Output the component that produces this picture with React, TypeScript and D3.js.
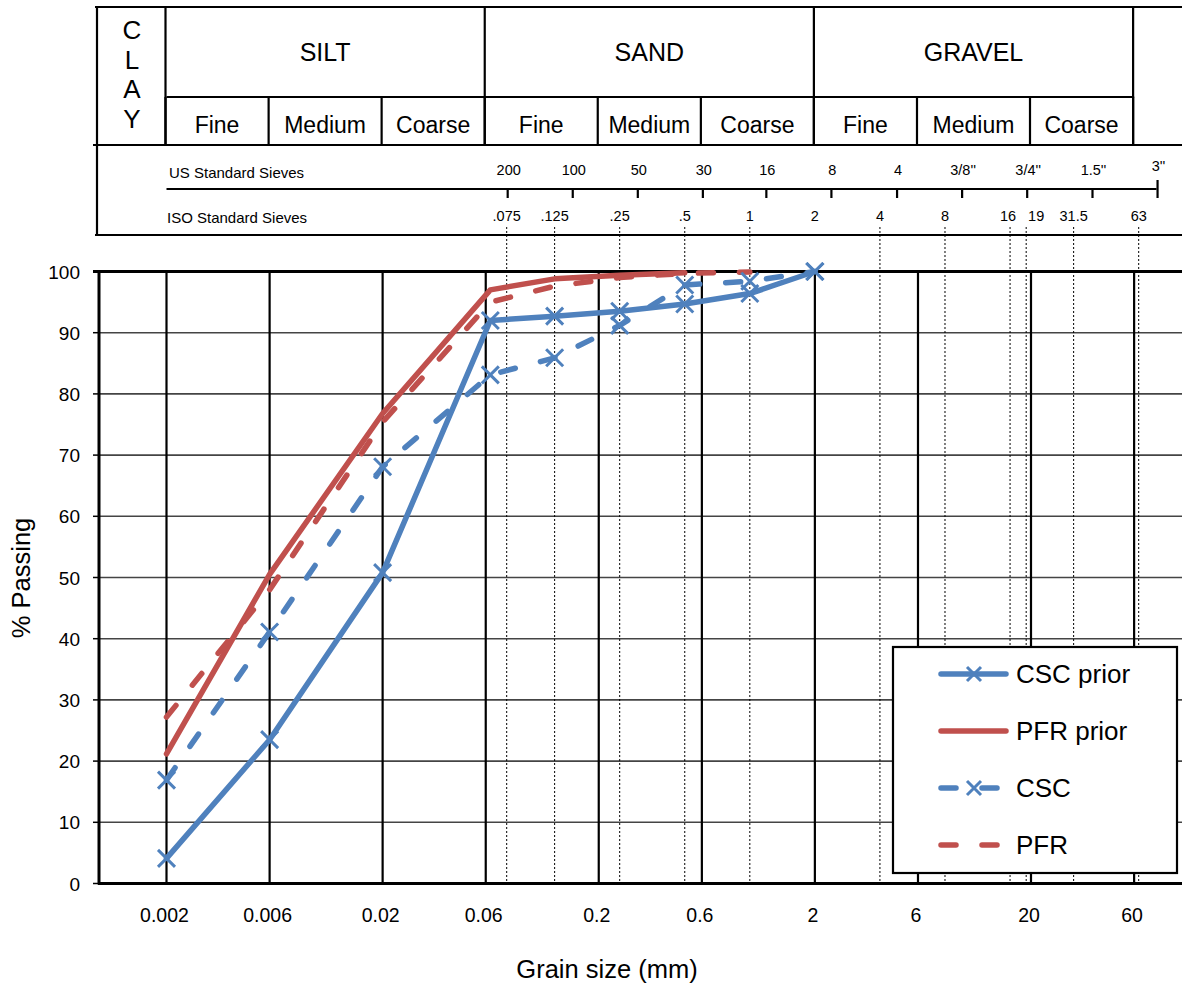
import React from "react";
import * as d3 from "d3";

// ---------- data ----------
const grainSizes = [0.002, 0.006, 0.02, 0.063, 0.125, 0.25, 0.5, 1, 2];
const cscPrior = [4.1, 23.5, 50.8, 92.0, 92.7, 93.5, 94.7, 96.4, 100];
const pfrPrior = [21.2, 50.5, 76.8, 97.0, 98.8, 99.4, 99.8];
const csc = [16.9, 41.1, 68.1, 83.1, 85.9, 91.2, 97.8, 98.4, 100];
const pfr = [27.2, 48.0, 75.4, 95.0, 97.6, 99.0, 99.7, 99.9];

const xTickValues = [0.002, 0.006, 0.02, 0.06, 0.2, 0.6, 2, 6, 20, 60];
const xTickLabels = ["0.002", "0.006", "0.02", "0.06", "0.2", "0.6", "2", "6", "20", "60"];
const yTickValues = [0, 10, 20, 30, 40, 50, 60, 70, 80, 90, 100];

const majorBounds = [0.002, 0.06, 2, 60];
const majorLabels = ["SILT", "SAND", "GRAVEL"];
const subBounds = [0.002, 0.006, 0.02, 0.06, 0.2, 0.6, 2, 6, 20, 60];
const subLabels = ["Fine", "Medium", "Coarse", "Fine", "Medium", "Coarse", "Fine", "Medium", "Coarse"];
const clayLetters = ["C", "L", "A", "Y"];

const usSieveLabels = ["200", "100", "50", "30", "16", "8", "4", "3/8''", "3/4''", "1.5''", "3''"];
const usSieveMm = [0.075, 0.15, 0.3, 0.6, 1.18, 2.36, 4.75, 9.5, 19, 38.1, 76.2];
const isoSieveLabels = [".075", ".125", ".25", ".5", "1", "2", "4", "8", "16", "19", "31.5", "63"];
const isoSieveMm = [0.075, 0.125, 0.25, 0.5, 1, 2, 4, 8, 16, 19, 31.5, 63];

const seriesNames = ["CSC prior", "PFR prior", "CSC", "PFR"];

// ---------- style ----------
const BLUE = "#4F81BD";
const RED = "#C0504D";
const FONT = "Liberation Sans, Arial, Helvetica, sans-serif";
const DASH = "15 26";

const W = 1182;
const H = 983;
const PL = 99; // plot left
const PR = 1182;
const PT = 271.5;
const PB = 883.5;

// header geometry
const HT = 7;
const HR1 = 97;
const HR2 = 145;
const HB = 235;
const HL = 97;

const isoDx: Record<string, number> = { "16": -2, "19": 10 };

export default function App() {
  const x = d3.scaleLog().domain([0.002, 20]).range([166.5, 1031]);
  const y = d3.scaleLinear().domain([0, 100]).range([PB, PT]);

  const line = d3
    .line<[number, number]>()
    .x((d) => x(d[0]))
    .y((d) => y(d[1]));

  const pts = (vals: number[]) => vals.map((v, i) => [grainSizes[i], v] as [number, number]);

  const series = [
    { name: seriesNames[1], data: pts(pfrPrior), color: RED, dash: null, marker: false },
    { name: seriesNames[3], data: pts(pfr), color: RED, dash: DASH, marker: false },
    { name: seriesNames[0], data: pts(cscPrior), color: BLUE, dash: null, marker: true },
    { name: seriesNames[2], data: pts(csc), color: BLUE, dash: DASH, marker: true },
  ];

  const legendItems = [
    { name: seriesNames[0], color: BLUE, dash: null, marker: true },
    { name: seriesNames[1], color: RED, dash: null, marker: false },
    { name: seriesNames[2], color: BLUE, dash: DASH, marker: true },
    { name: seriesNames[3], color: RED, dash: DASH, marker: false },
  ];

  const xMark = (cx: number, cy: number, s: number, color: string, key: any) => (
    <path
      key={key}
      d={`M${cx - s},${cy - s}L${cx + s},${cy + s}M${cx - s},${cy + s}L${cx + s},${cy - s}`}
      stroke={color}
      strokeWidth={3}
      fill="none"
    />
  );

  const lw = 2.2;

  return (
    <svg
      width={W}
      height={H}
      style={{ position: "absolute", left: 0, top: 0, background: "#fff" }}
      fontFamily={FONT}
    >
      <rect x={0} y={0} width={W} height={H} fill="#fff" />

      {/* ---------- header ---------- */}
      <g stroke="#000" strokeWidth={lw} fill="none">
        <line x1={95} x2={W} y1={HT} y2={HT} />
        <line x1={93} x2={W} y1={HR2} y2={HR2} />
        <line x1={95} x2={W} y1={HB} y2={HB} />
        <line x1={HL} x2={HL} y1={HT - 1} y2={HB + 1} />
        <line x1={x(majorBounds[0])} x2={x(majorBounds[majorBounds.length - 1])} y1={HR1} y2={HR1} />
        {majorBounds.map((b, i) => (
          <line key={"mb" + i} x1={x(b) - 1} x2={x(b) - 1} y1={HT} y2={HR2} />
        ))}
        {subBounds.map((b, i) => (
          <line key={"sb" + i} x1={x(b) - 1} x2={x(b) - 1} y1={HR1} y2={HR2} />
        ))}
        <line x1={x(0.002)} x2={x(usSieveMm[usSieveMm.length - 1])} y1={189} y2={189} />
        {usSieveMm.map((mm, i) => (
          <line key={"ust" + i} x1={x(mm) + 1} x2={x(mm) + 1} y1={i === usSieveMm.length - 1 ? 180 : 189} y2={198} />
        ))}
      </g>

      {clayLetters.map((c, i) => (
        <text key={"cl" + i} x={132} y={39 + i * 29.6} fontSize={26} textAnchor="middle">
          {c}
        </text>
      ))}
      {majorLabels.map((lab, i) => (
        <text
          key={"ml" + i}
          x={(x(majorBounds[i]) + x(majorBounds[i + 1])) / 2 - 1}
          y={61}
          fontSize={25}
          textAnchor="middle"
        >
          {lab}
        </text>
      ))}
      {subLabels.map((lab, i) => (
        <text
          key={"sl" + i}
          x={(x(subBounds[i]) + x(subBounds[i + 1])) / 2 - 1}
          y={133}
          fontSize={23}
          textAnchor="middle"
        >
          {lab}
        </text>
      ))}
      <text x={169} y={178} fontSize={15}>
        US Standard Sieves
      </text>
      <text x={167} y={223} fontSize={15}>
        ISO Standard Sieves
      </text>
      {usSieveLabels.map((lab, i) => (
        <text key={"usl" + i} x={x(usSieveMm[i]) + 2} y={i === usSieveLabels.length - 1 ? 171 : 175} fontSize={14.5} textAnchor="middle">
          {lab}
        </text>
      ))}
      {isoSieveLabels.map((lab, i) => (
        <text key={"isl" + i} x={x(isoSieveMm[i]) + (isoDx[lab] || 0)} y={221} fontSize={14.5} textAnchor="middle">
          {lab}
        </text>
      ))}

      {/* ---------- plot grid ---------- */}
      {yTickValues.slice(1, -1).map((v) => (
        <line key={"hg" + v} x1={PL} x2={PR} y1={y(v)} y2={y(v)} stroke="#444" strokeWidth={1.6} />
      ))}
      {xTickValues.map((v) => (
        <line key={"vg" + v} x1={x(v)} x2={x(v)} y1={PT} y2={PB} stroke="#000" strokeWidth={2.2} />
      ))}
      {isoSieveMm
        .filter((mm) => !xTickValues.includes(mm))
        .map((mm) => (
          <line
            key={"dot" + mm}
            x1={x(mm)}
            x2={x(mm)}
            y1={227}
            y2={886}
            stroke="#000"
            strokeWidth={1}
            strokeDasharray="2 2"
          />
        ))}
      {/* axes */}
      <line x1={PL - 6} x2={PR} y1={PT} y2={PT} stroke="#000" strokeWidth={3} />
      <line x1={PL - 1} x2={PR} y1={PB} y2={PB} stroke="#000" strokeWidth={3} />
      <line x1={PL} x2={PL} y1={PT - 1} y2={PB + 1} stroke="#000" strokeWidth={3} />
      {yTickValues.map((v) => (
        <line key={"yt" + v} x1={PL - 6} x2={PL} y1={y(v)} y2={y(v)} stroke="#000" strokeWidth={1.5} />
      ))}
      {yTickValues.map((v) => (
        <text key={"yl" + v} x={80} y={y(v) + 7} fontSize={19} textAnchor="end">
          {v}
        </text>
      ))}
      {xTickValues.map((v, i) => (
        <text key={"xl" + v} x={x(v) - 2} y={922} fontSize={19.5} textAnchor="middle">
          {xTickLabels[i]}
        </text>
      ))}

      {/* ---------- series ---------- */}
      {series.map((s) => (
        <g key={s.name}>
          <path
            d={line(s.data) || ""}
            fill="none"
            stroke={s.color}
            strokeWidth={5.5}
            strokeLinejoin="round"
            strokeLinecap="round"
            strokeDasharray={s.dash || undefined}
          />
          {s.marker && s.data.map((d, i) => xMark(x(d[0]), y(d[1]), 8.5, s.color, s.name + i))}
        </g>
      ))}

      {/* ---------- legend ---------- */}
      <rect x={893} y={647} width={284} height={226} fill="#fff" stroke="#000" strokeWidth={2.2} />
      {legendItems.map((it, i) => {
        const ly = 674 + i * 57;
        return (
          <g key={"lg" + i}>
            <line
              x1={941}
              x2={1006}
              y1={ly}
              y2={ly}
              stroke={it.color}
              strokeWidth={5.5}
              strokeLinecap="round"
              strokeDasharray={it.dash || undefined}
            />
            {it.marker && xMark(974, ly, 7, it.color, "lm" + i)}
            <text x={1016} y={ly + 9} fontSize={26}>
              {it.name}
            </text>
          </g>
        );
      })}

      {/* ---------- axis titles ---------- */}
      <text x={607} y={978} fontSize={25.5} textAnchor="middle">
        Grain size (mm)
      </text>
      <text transform="translate(30,578) rotate(-90)" fontSize={25.5} textAnchor="middle">
        % Passing
      </text>
    </svg>
  );
}
